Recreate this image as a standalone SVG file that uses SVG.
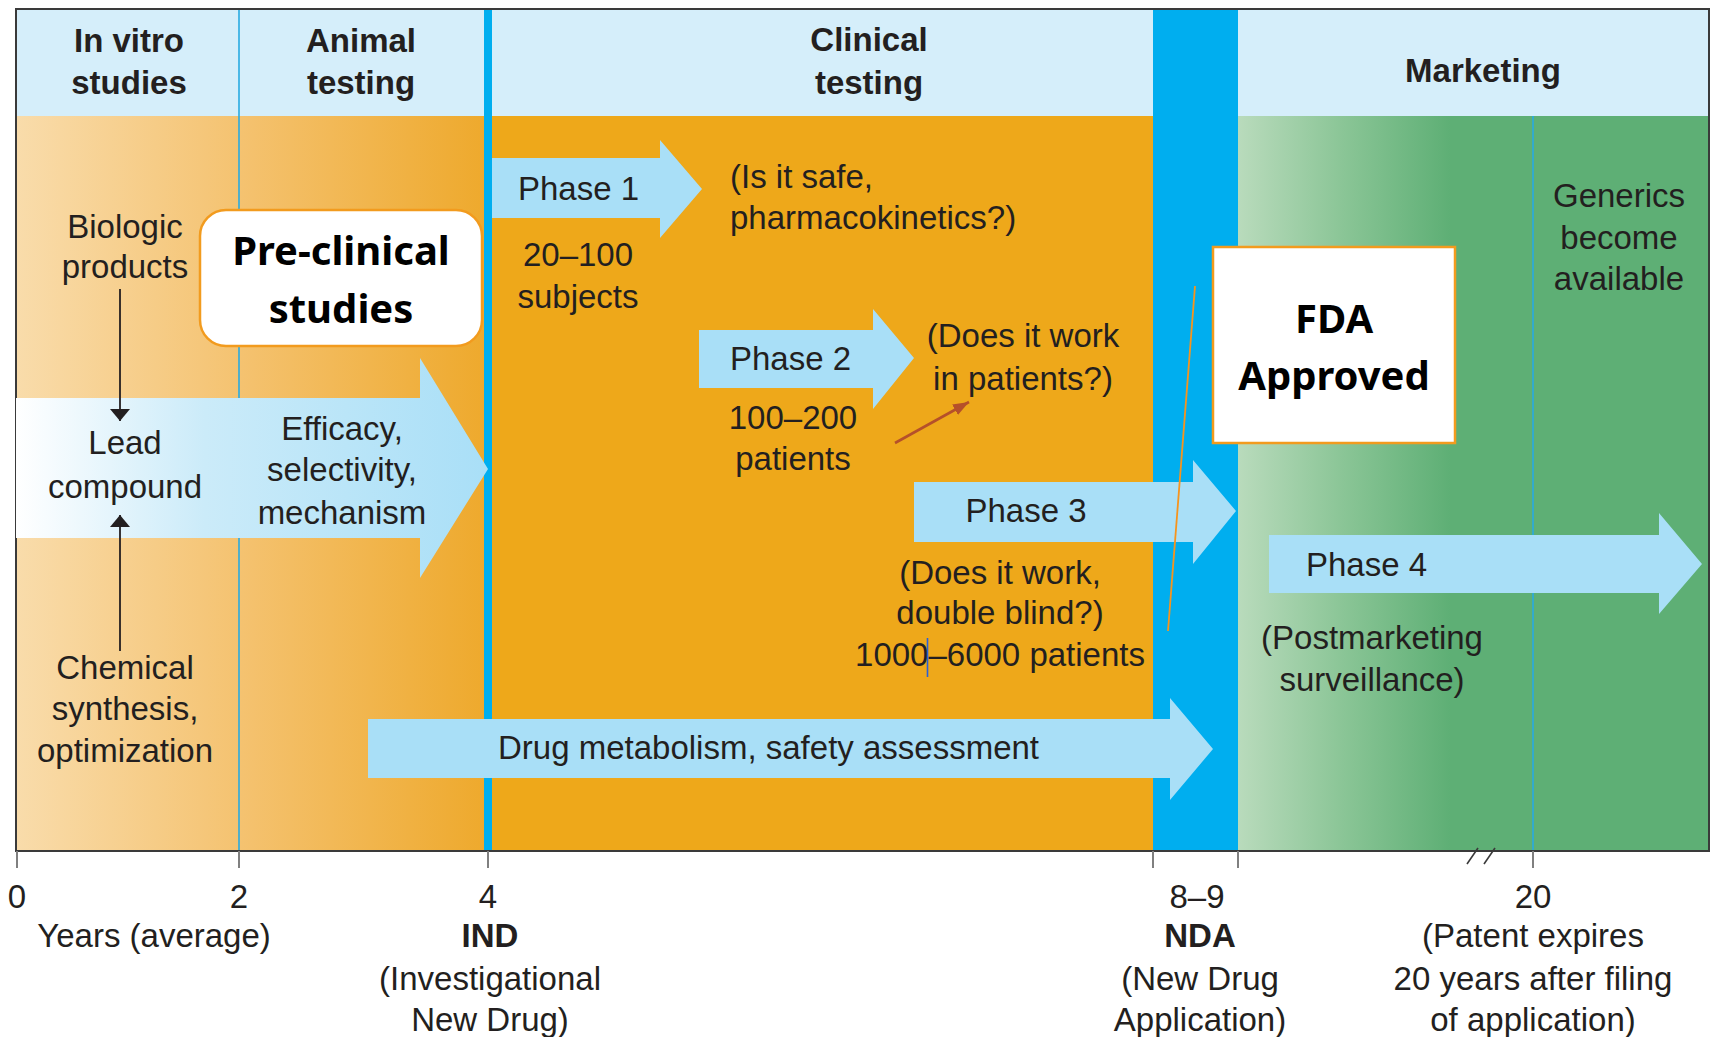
<svg xmlns="http://www.w3.org/2000/svg" width="1711" height="1037" viewBox="0 0 1711 1037">
<defs>
  <style>
    text { font-family: "Liberation Sans", Arial, sans-serif; fill: #231f20; }
    .hdr { font-size: 33px; font-weight: 700; text-anchor: middle; }
    .lbl { font-size: 33px; font-weight: 400; }
    .mid { text-anchor: middle; }
    .bold { font-weight: 700; }
    .big { font-family: "Noto Sans", "Open Sans", sans-serif; font-size: 40px; font-weight: 700; text-anchor: middle; fill: #000; }
    .arrow { fill: #a9dff7; }
    .divider { stroke: #27aae1; stroke-width: 1.6; }
    .tick { stroke: #808080; stroke-width: 2; }
    .conn { stroke: #231f20; stroke-width: 1.8; fill: none; }
  </style>
  <linearGradient id="preGrad" gradientUnits="userSpaceOnUse" x1="16" y1="0" x2="488" y2="0">
    <stop offset="0" stop-color="#f9dcab"/>
    <stop offset="0.5" stop-color="#f4c16d"/>
    <stop offset="1" stop-color="#eea92c"/>
  </linearGradient>
  <linearGradient id="mktGrad" gradientUnits="userSpaceOnUse" x1="1238" y1="0" x2="1450" y2="0">
    <stop offset="0" stop-color="#b9dbbc"/>
    <stop offset="0.5" stop-color="#8ac596"/>
    <stop offset="1" stop-color="#5eaf75"/>
  </linearGradient>
  <linearGradient id="leadGrad" gradientUnits="userSpaceOnUse" x1="16" y1="0" x2="488" y2="0">
    <stop offset="0" stop-color="#ffffff"/>
    <stop offset="0.4" stop-color="#cbebf9"/>
    <stop offset="1" stop-color="#a9dff7"/>
  </linearGradient>
  <marker id="ahDark" viewBox="0 0 12 20" refX="12" refY="10" markerWidth="12" markerHeight="20" markerUnits="userSpaceOnUse" orient="auto">
    <path d="M0,0 L12,10 L0,20 Z" fill="#231f20"/>
  </marker>
  <marker id="ahRed" viewBox="0 0 16 12" refX="16" refY="6" markerWidth="16" markerHeight="12" markerUnits="userSpaceOnUse" orient="auto">
    <path d="M0,0 L16,6 L0,12 Z" fill="#b5502a"/>
  </marker>
</defs>

<!-- page -->
<rect x="0" y="0" width="1711" height="1037" fill="#ffffff"/>

<!-- stage backgrounds -->
<g id="stages">
  <rect x="16" y="9" width="1693" height="107" fill="#d5eefa"/>
  <rect x="16" y="116" width="472" height="735" fill="url(#preGrad)"/>
  <rect x="488" y="116" width="665" height="735" fill="#eea81a"/>
  <rect x="1238" y="116" width="471" height="735" fill="url(#mktGrad)"/>
  <rect x="1153" y="9" width="85" height="842" fill="#00aeef"/>
  <rect x="484" y="9" width="8" height="842" fill="#00aeef"/>
  <line class="divider" x1="239" y1="9" x2="239" y2="851"/>
  <line class="divider" x1="1533" y1="116" x2="1533" y2="851"/>
  <rect x="16" y="9" width="1693" height="842" fill="none" stroke="#3a3a3a" stroke-width="2"/>
</g>

<!-- stage headings -->
<g id="headings">
  <text class="hdr" x="129" y="52">In vitro</text>
  <text class="hdr" x="129" y="94">studies</text>
  <text class="hdr" x="361" y="52">Animal</text>
  <text class="hdr" x="361" y="94">testing</text>
  <text class="hdr" x="869" y="51">Clinical</text>
  <text class="hdr" x="869" y="94">testing</text>
  <text class="hdr" x="1483" y="82">Marketing</text>
</g>

<!-- lead compound arrow -->
<g id="lead">
  <path d="M16,398 L420,398 L420,358 L488,469 L420,578 L420,538 L16,538 Z" fill="url(#leadGrad)"/>
  <text class="lbl mid" x="125" y="454">Lead</text>
  <text class="lbl mid" x="125" y="498">compound</text>
  <text class="lbl mid" x="342" y="440">Efficacy,</text>
  <text class="lbl mid" x="342" y="481">selectivity,</text>
  <text class="lbl mid" x="342" y="524">mechanism</text>
</g>

<g id="biologic">
  <text class="lbl mid" x="125" y="238">Biologic</text>
  <text class="lbl mid" x="125" y="278">products</text>
</g>

<g id="chemical">
  <text class="lbl mid" x="125" y="679">Chemical</text>
  <text class="lbl mid" x="125" y="720">synthesis,</text>
  <text class="lbl mid" x="125" y="762">optimization</text>
</g>

<!-- phase 1 -->
<g id="phase1">
  <path class="arrow" d="M492,158 L660,158 L660,140 L702,189 L660,238 L660,218 L492,218 Z"/>
  <text class="lbl" x="518" y="200">Phase 1</text>
  <text class="lbl mid" x="578" y="266">20–100</text>
  <text class="lbl mid" x="578" y="308">subjects</text>
  <text class="lbl" x="730" y="188">(Is it safe,</text>
  <text class="lbl" x="730" y="229">pharmacokinetics?)</text>
</g>

<!-- phase 2 -->
<g id="phase2">
  <path class="arrow" d="M699,330 L873,330 L873,309 L914,358 L873,409 L873,388 L699,388 Z"/>
  <text class="lbl" x="730" y="370">Phase 2</text>
  <text class="lbl mid" x="793" y="429">100–200</text>
  <text class="lbl mid" x="793" y="470">patients</text>
  <text class="lbl mid" x="1023" y="347">(Does it work</text>
  <text class="lbl mid" x="1023" y="390">in patients?)</text>
</g>

<!-- phase 3 -->
<g id="phase3">
  <path class="arrow" d="M914,482 L1193,482 L1193,460 L1236,511 L1193,564 L1193,542 L914,542 Z"/>
  <text class="lbl mid" x="1026" y="522">Phase 3</text>
  <text class="lbl mid" x="1000" y="584">(Does it work,</text>
  <text class="lbl mid" x="1000" y="624">double blind?)</text>
  <text class="lbl mid" x="1000" y="666">1000–6000 patients</text>
  <line x1="927.5" y1="638" x2="927.5" y2="677" stroke="#2a5fd8" stroke-width="1.6"/>
</g>

<!-- drug metabolism -->
<g id="metabolism">
  <path class="arrow" d="M368,719 L1170,719 L1170,698 L1213,749 L1170,800 L1170,778 L368,778 Z"/>
  <text class="lbl" x="498" y="759">Drug metabolism, safety assessment</text>
</g>

<!-- phase 4 -->
<g id="phase4">
  <path class="arrow" d="M1269,535 L1659,535 L1659,513 L1702,564 L1659,614 L1659,593 L1269,593 Z"/>
  <text class="lbl" x="1306" y="576">Phase 4</text>
  <text class="lbl mid" x="1372" y="649">(Postmarketing</text>
  <text class="lbl mid" x="1372" y="691">surveillance)</text>
</g>

<g id="generics">
  <text class="lbl mid" x="1619" y="207">Generics</text>
  <text class="lbl mid" x="1619" y="249">become</text>
  <text class="lbl mid" x="1619" y="290">available</text>
</g>

<!-- connectors -->
<g id="connectors">
  <line class="conn" x1="120" y1="289" x2="120" y2="421" marker-end="url(#ahDark)"/>
  <line class="conn" x1="120" y1="651" x2="120" y2="515" marker-end="url(#ahDark)"/>
  <line x1="895" y1="443" x2="969" y2="402" stroke="#b5502a" stroke-width="2.6" marker-end="url(#ahRed)"/>
  <line x1="1195" y1="286" x2="1168" y2="631" stroke="#f7941d" stroke-width="1.8"/>
</g>

<!-- callout boxes -->
<g id="preclinical">
  <rect x="200" y="210" width="282" height="136" rx="26" ry="26" fill="#ffffff" stroke="#f29b1e" stroke-width="2.5"/>
  <text class="big" x="341" y="265">Pre-clinical</text>
  <text class="big" x="341" y="323">studies</text>
</g>

<g id="fda">
  <rect x="1213" y="247" width="242" height="196" fill="#ffffff" stroke="#f29b1e" stroke-width="2.5"/>
  <text class="big" x="1334" y="333">FDA</text>
  <text class="big" x="1334" y="390">Approved</text>
</g>

<!-- time axis -->
<g id="axis">
  <line class="tick" x1="17" y1="851" x2="17" y2="868"/>
  <line class="tick" x1="239" y1="851" x2="239" y2="868"/>
  <line class="tick" x1="488" y1="851" x2="488" y2="868"/>
  <line class="tick" x1="1153" y1="851" x2="1153" y2="868"/>
  <line class="tick" x1="1238" y1="851" x2="1238" y2="868"/>
  <line class="tick" x1="1533" y1="851" x2="1533" y2="868"/>
  <line x1="1467" y1="864" x2="1478" y2="848" stroke="#3a3a3a" stroke-width="1.6"/>
  <line x1="1484" y1="864" x2="1495" y2="848" stroke="#3a3a3a" stroke-width="1.6"/>

  <text class="lbl mid" x="17" y="908">0</text>
  <text class="lbl mid" x="239" y="908">2</text>
  <text class="lbl mid" x="488" y="908">4</text>
  <text class="lbl mid" x="1197" y="908">8–9</text>
  <text class="lbl mid" x="1533" y="908">20</text>

  <text class="lbl mid" x="154" y="947">Years (average)</text>

  <text class="lbl mid bold" x="490" y="947">IND</text>
  <text class="lbl mid" x="490" y="990">(Investigational</text>
  <text class="lbl mid" x="490" y="1031">New Drug)</text>

  <text class="lbl mid bold" x="1200" y="947">NDA</text>
  <text class="lbl mid" x="1200" y="990">(New Drug</text>
  <text class="lbl mid" x="1200" y="1031">Application)</text>

  <text class="lbl mid" x="1533" y="947">(Patent expires</text>
  <text class="lbl mid" x="1533" y="990">20 years after filing</text>
  <text class="lbl mid" x="1533" y="1031">of application)</text>
</g>
</svg>
